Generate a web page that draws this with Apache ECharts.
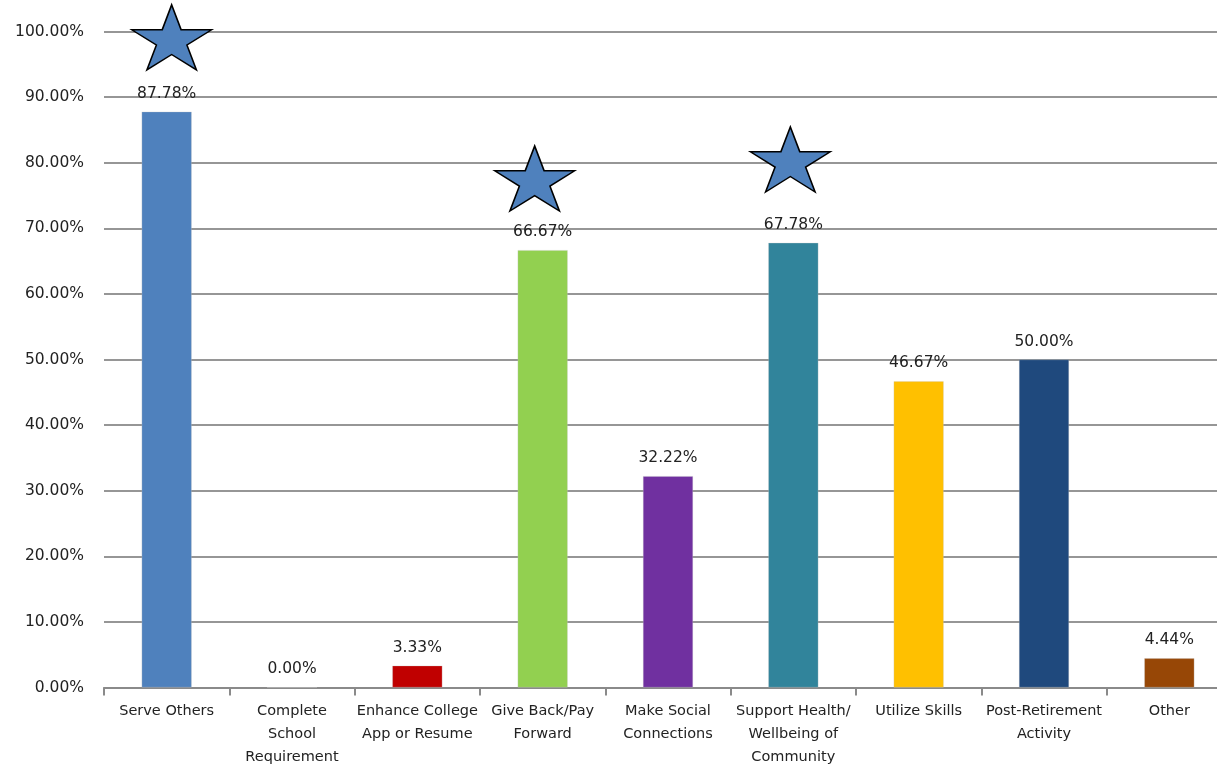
<!DOCTYPE html>
<html>
<head>
<meta charset="utf-8">
<script src="https://cdn.jsdelivr.net/npm/echarts@6/dist/echarts.min.js"></script>
<style>
  html, body { margin: 0; padding: 0; background: #fff; overflow: hidden; }
  #chart { width: 1232px; height: 766px; }
</style>
</head>
<body>
<div id="chart"></div>
<script>
// categories (line breaks as in the reference)
var categories = [
    'Serve Others',
    'Complete\nSchool\nRequirement',
    'Enhance College\nApp or Resume',
    'Give Back/Pay\nForward',
    'Make Social\nConnections',
    'Support Health/\nWellbeing of\nCommunity',
    'Utilize Skills',
    'Post-Retirement\nActivity',
    'Other'
];
// percent of respondents
var percents = [87.78, 0.00, 3.33, 66.67, 32.22, 67.78, 46.67, 50.00, 4.44];
// stars: category index + height (percent)
var starIndex = [0, 3, 5];
var starValue = [99.1, 77.6, 80.5];
// y ticks
var yTicks = [0, 10, 20, 30, 40, 50, 60, 70, 80, 90, 100];

var barColors = ['#4F81BD', '#4F81BD', '#C00000', '#92D050', '#7030A0', '#31849B', '#FFC000', '#1F497D', '#974706'];
var starOffsets = [[5, 0], [-8, 0], [-3, 0]];
var starPath = 'path://M50,0L61.23,34.55L97.55,34.55L68.17,55.9L79.39,90.45L50,69.1L20.61,90.45L31.83,55.9L2.45,34.55L38.77,34.55Z';
var fontName = 'DejaVu Sans';

var starData = [];
for (var i = 0; i < starIndex.length; i++) {
    starData.push({value: [starIndex[i], starValue[i]], symbolOffset: starOffsets[i]});
}

var chart = echarts.init(document.getElementById('chart'));
var option = {
    backgroundColor: '#fff',
    animation: false,
    grid: {left: 104, top: 31.5, width: 1128, height: 656, containLabel: false, outerBoundsMode: 'none'},
    xAxis: {
        type: 'category',
        data: categories,
        axisLine: {lineStyle: {color: '#8a8a8a', width: 2}},
        axisTick: {show: true, length: 8, lineStyle: {color: '#8a8a8a', width: 2}},
        axisLabel: {
            interval: 0, margin: 12, color: '#222',
            fontFamily: fontName, fontSize: 14.5, lineHeight: 23
        }
    },
    yAxis: {
        type: 'value',
        min: yTicks[0],
        max: yTicks[yTicks.length - 1],
        interval: yTicks[1] - yTicks[0],
        axisLine: {show: false},
        axisTick: {show: false},
        splitLine: {lineStyle: {color: '#969696', width: 1.8}},
        axisLabel: {
            margin: 20, color: '#222', fontFamily: fontName, fontSize: 15.5,
            formatter: function (v) { return v.toFixed(2) + '%'; }
        }
    },
    series: [
        {
            type: 'bar',
            data: percents,
            barWidth: 50,
            itemStyle: {
                color: function (p) { return barColors[p.dataIndex]; },
                borderColor: 'rgba(200,200,200,0.6)',
                borderWidth: 0.5
            },
            label: {
                show: true,
                position: 'top',
                distance: 10,
                color: '#222',
                fontFamily: fontName,
                fontSize: 15.5,
                formatter: function (p) { return p.value.toFixed(2) + '%'; }
            }
        },
        {
            type: 'scatter',
            data: starData,
            symbol: starPath,
            symbolSize: [80, 65],
            symbolKeepAspect: false,
            z: 5,
            itemStyle: {color: '#4F81BD', borderColor: '#000', borderWidth: 1.5, opacity: 1}
        }
    ]
};
chart.setOption(option);
</script>
</body>
</html>
